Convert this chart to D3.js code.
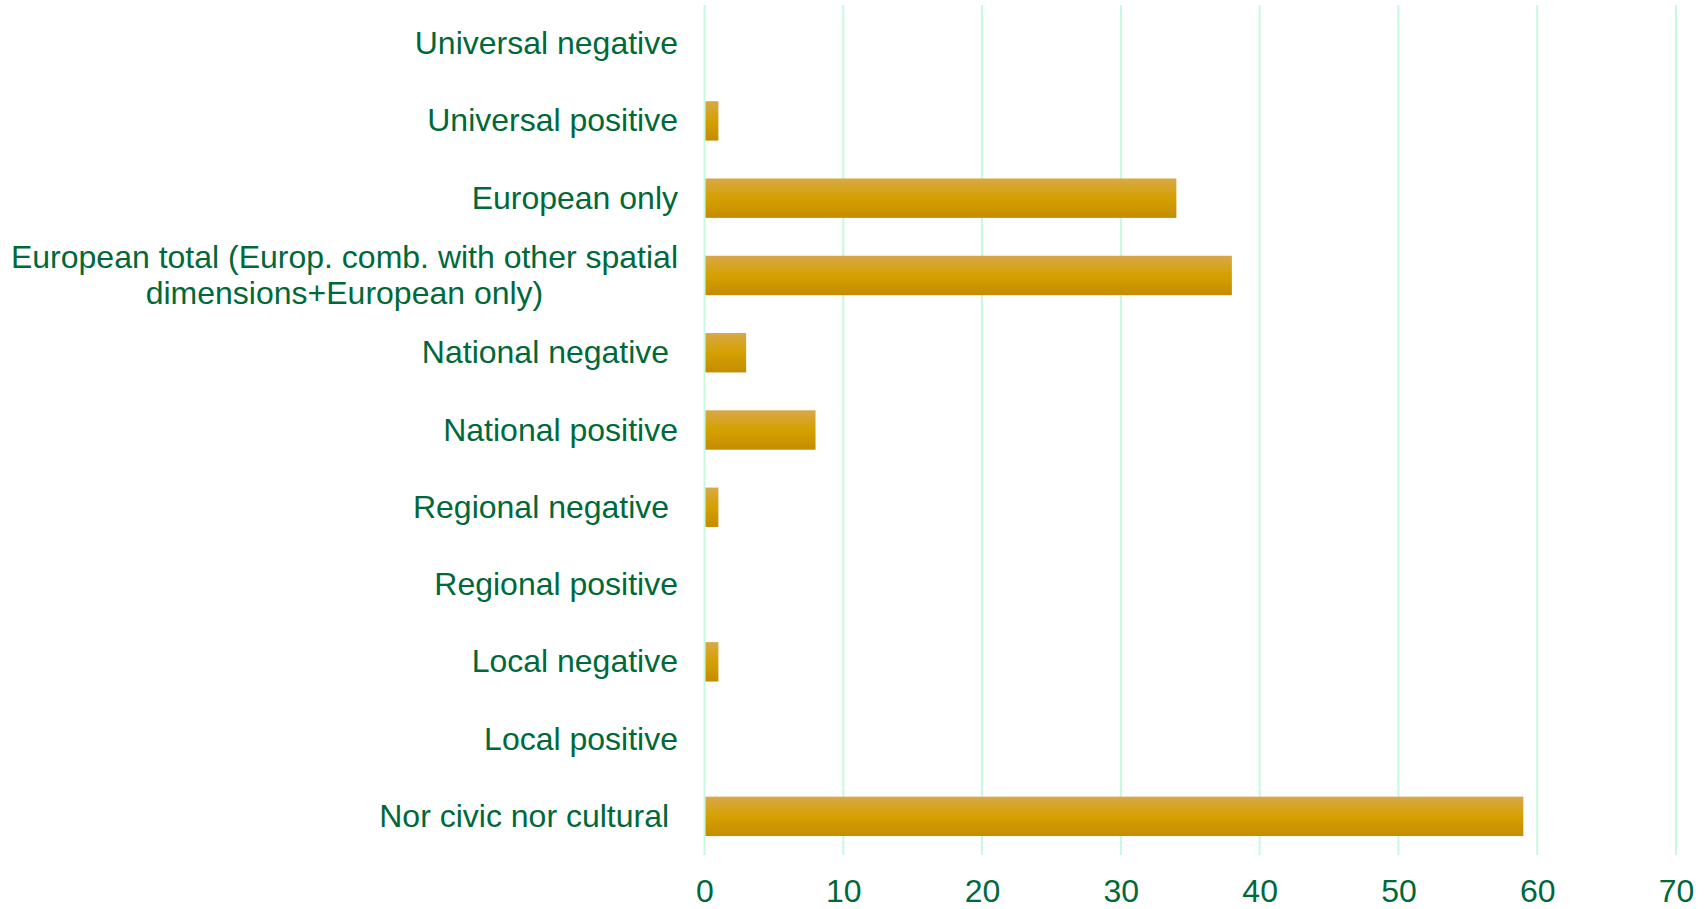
<!DOCTYPE html>
<html>
<head>
<meta charset="utf-8">
<script src="https://cdn.jsdelivr.net/npm/d3@7/dist/d3.min.js"></script>
<style>
  html, body { margin: 0; padding: 0; background: #ffffff; }
  svg { display: block; }
  text { font-family: "Liberation Sans", Arial, sans-serif; fill: #00693A; white-space: pre; }
</style>
</head>
<body>
<div id="chart"></div>
<script>
// Category labels (top to bottom); "\n" splits a label onto two lines
const categories = [
  "Universal negative",
  "Universal positive",
  "European only",
  "European total (Europ. comb. with other spatial\ndimensions+European only)",
  "National negative ",
  "National positive",
  "Regional negative ",
  "Regional positive",
  "Local negative",
  "Local positive",
  "Nor civic nor cultural "
];
const values = [0, 1, 34, 38, 3, 8, 1, 0, 1, 0, 59];
const tickValues = [0, 10, 20, 30, 40, 50, 60, 70];

const W = 1707, H = 909;
const plot = { left: 704.5, right: 1676, top: 5, bottom: 855 };
const fontSize = 32;
const labelRight = 678;

const svg = d3.select("#chart").append("svg")
  .attr("width", W).attr("height", H);

// Vertical gradient for the bars: lighter tan at top, deeper amber below
const grad = svg.append("defs").append("linearGradient")
  .attr("id", "barFill").attr("x1", 0).attr("y1", 0).attr("x2", 0).attr("y2", 1);
grad.append("stop").attr("offset", "0%").attr("stop-color", "#D8A848");
grad.append("stop").attr("offset", "50%").attr("stop-color", "#D5A000");
grad.append("stop").attr("offset", "100%").attr("stop-color", "#C48C00");

const x = d3.scaleLinear().domain([0, 70]).range([plot.left, plot.right]);
const y = d3.scaleBand().domain(categories).range([plot.top, plot.bottom])
  .paddingInner(0.49).paddingOuter(0.245);

// Gridlines
svg.append("g").selectAll("line").data(tickValues).join("line")
  .attr("x1", d => x(d)).attr("x2", d => x(d))
  .attr("y1", plot.top).attr("y2", plot.bottom)
  .attr("stroke", "#C6F9DD").attr("stroke-width", 2);

// Bars
svg.append("g").selectAll("rect").data(categories).join("rect")
  .attr("x", x(0) + 1)
  .attr("y", d => y(d))
  .attr("width", (d, i) => Math.max(0, x(values[i]) - x(0) - 1))
  .attr("height", y.bandwidth())
  .attr("fill", "url(#barFill)");

// X axis tick labels
const xAxis = d3.axisBottom(x).tickValues(tickValues).tickSize(0).tickPadding(0);
const gx = svg.append("g").call(xAxis);
gx.select(".domain").remove();
gx.selectAll("text")
  .attr("font-size", fontSize).attr("font-family", null).attr("fill", "#00693A")
  .attr("y", 902).attr("dy", 0);

// Category labels, right-aligned beside the axis; wrapped labels are centred line by line
const lineH = 36.5;
svg.append("g").selectAll("text").data(categories).join("text")
  .attr("font-size", fontSize)
  .each(function(d) {
    const lines = d.split("\n");
    const t = d3.select(this);
    const cy = y(d) + y.bandwidth() / 2;
    const base0 = cy + 0.33 * fontSize - (lines.length - 1) * lineH / 2;
    if (lines.length === 1) {
      t.attr("text-anchor", "end").attr("x", labelRight).attr("y", base0).text(lines[0]);
    } else {
      const spans = lines.map((ln, k) => t.append("tspan")
        .attr("y", base0 + k * lineH).text(ln));
      const widest = d3.max(spans, s => s.node().getComputedTextLength());
      const cx = labelRight - widest / 2;
      spans.forEach(s => s.attr("x", cx).attr("text-anchor", "middle"));
    }
  });
</script>
</body>
</html>
